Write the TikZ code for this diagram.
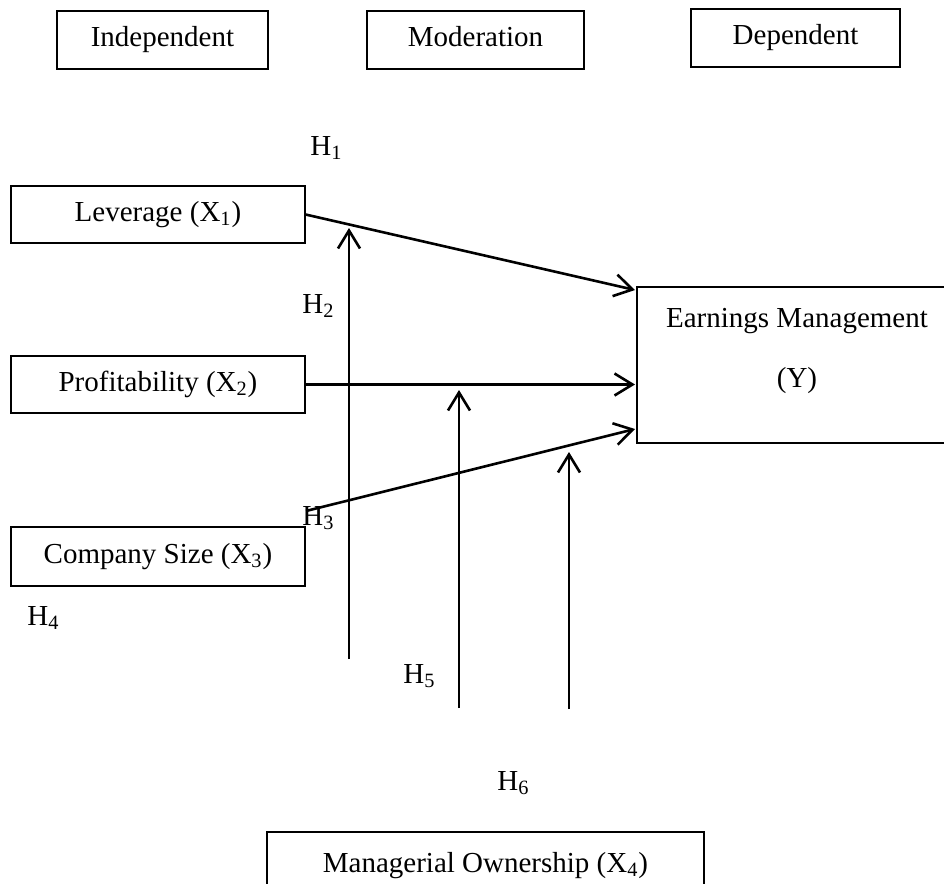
\documentclass[tikz,border=0pt]{standalone}
\usepackage{fontspec}
\setmainfont{Liberation Serif}
\usetikzlibrary{arrows.meta}
\begin{document}
\begin{tikzpicture}[x=0.5pt,y=-0.5pt,
  box/.style={draw, line width=0.6pt, inner sep=0pt, font=\fontsize{14.5}{17.4}\selectfont, text height=10.5pt, text depth=3.6pt},
  txt/.style={inner sep=0pt, font=\fontsize{14.5}{17.4}\selectfont},
  conn/.style={line width=1.3pt, -{Straight Barb[length=9pt,width=11pt]}},
]
\useasboundingbox (0,0) rectangle (944,884);
% header boxes
\node[box, minimum width=105.5pt, minimum height=29pt] (ind) at (162.5,40) {Independent};
\node[box, minimum width=108.5pt, minimum height=29pt] (mod) at (475.5,40) {Moderation};
\node[box, minimum width=104.5pt, minimum height=29pt] (dep) at (795.5,38) {Dependent};
% variable boxes
\node[box, minimum width=147pt, minimum height=28.5pt] (lev) at (158,214.5) {Leverage (X\textsubscript{1})};
\node[box, minimum width=147pt, minimum height=28.5pt] (prof) at (158,384.5) {Profitability (X\textsubscript{2})};
\node[box, minimum width=147pt, minimum height=29.5pt] (comp) at (158,556.5) {Company Size (X\textsubscript{3})};
\node[box, minimum width=160pt, minimum height=78pt] (em) at (797,365) {};
\node[txt, anchor=base] (emt1) at (797,327) {Earnings Management};
\node[txt, anchor=base] (emt2) at (797,387) {(Y)};
\node[box, minimum width=218.5pt, minimum height=33.5pt] (mo) at (485.5,865.5) {Managerial Ownership (X\textsubscript{4})};
% hypothesis labels
\node[txt, anchor=base west] (h1) at (310,155) {H\textsubscript{1}};
\node[txt, anchor=base west] (h2) at (302,313) {H\textsubscript{2}};
\node[txt, anchor=base west] (h3) at (302,525) {H\textsubscript{3}};
\node[txt, anchor=base west] (h4) at (27,625) {H\textsubscript{4}};
\node[txt, anchor=base west] (h5) at (403,683) {H\textsubscript{5}};
\node[txt, anchor=base west] (h6) at (497,790) {H\textsubscript{6}};
% connector end points
\coordinate (emA) at (635,290);
\coordinate (emC) at (635,429);
\coordinate (h3s) at (306,511);
\coordinate (v1s) at (349,659); \coordinate (v1e) at (349,228);
\coordinate (v2s) at (459,708); \coordinate (v2e) at (459,390);
\coordinate (v3s) at (569,709); \coordinate (v3e) at (569,452);
% connectors
\draw[conn] (lev.east) -- (emA);
\draw[conn] (prof.east) -- (prof.east -| emA);
\draw[conn] (h3s) -- (emC);
\draw[conn] (v1s) -- (v1e);
\draw[conn] (v2s) -- (v2e);
\draw[conn] (v3s) -- (v3e);
\end{tikzpicture}
\end{document}
